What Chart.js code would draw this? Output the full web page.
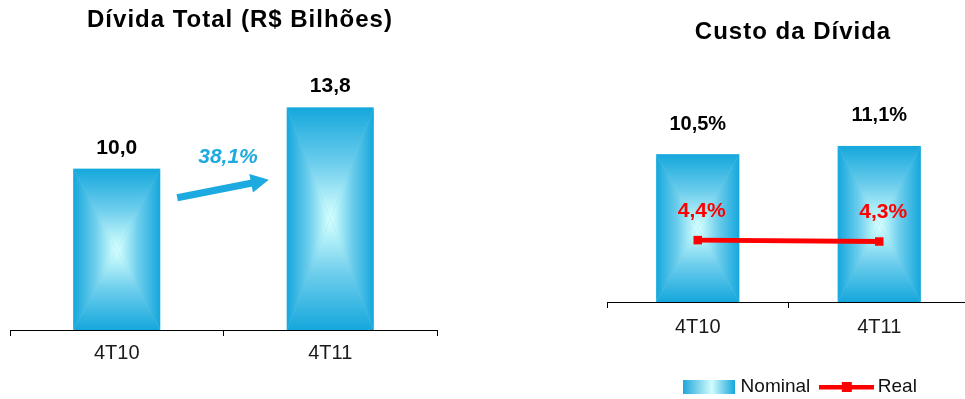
<!DOCTYPE html>
<html lang="pt-BR">
<head>
<meta charset="utf-8">
<title>Dívida Total e Custo da Dívida</title>
<script src="https://cdn.jsdelivr.net/npm/chart.js@4.4.1/dist/chart.umd.min.js"></script>
<style>
  body {
    margin: 0;
    width: 965px;
    height: 399px;
    overflow: hidden;
    position: relative;
    background: #fff;
    font-family: 'Liberation Sans', Arial, sans-serif;
  }
  .title {
    position: absolute;
    z-index: 2;
    font-weight: bold;
    font-size: 24px;
    line-height: 24px;
    letter-spacing: 1px;
    text-align: center;
    white-space: nowrap;
    color: #000;
  }
  canvas { position: absolute; top: 0; }
</style>
</head>
<body>
<div class="title" style="left:0; top:7px; width:480px;">Dívida Total (R$ Bilhões)</div>
<div class="title" style="left:600px; top:19px; width:386px;">Custo da Dívida</div>
<canvas id="debt-chart" width="447" height="399" style="left:0"></canvas>
<canvas id="cost-chart" width="400" height="399" style="left:600px"></canvas>
<script>
// data
const periods = ['4T10', '4T11'];
const debtTotal = [10.0, 13.8];          // R$ bilhões
const debtGrowth = '38,1%';
const costNominal = [10.5, 11.1];        // %
const costReal = [4.4, 4.3];             // %

const FONT = "'Liberation Sans', Arial, sans-serif";
const EDGE = '#15a7dc';
const MID = '#6ccdec';
const CENTER = '#d8ffff';
const ACCENT = '#1caae0';

const fmt = (v) => v.toFixed(1).replace('.', ',');

// rectangle "from center" gradient, drawn as four triangles
function addStops(g) {
    g.addColorStop(0, EDGE);
    g.addColorStop(0.5, MID);
    g.addColorStop(0.85, '#b8f2f9');
    g.addColorStop(1, CENTER);
    return g;
}

function paintBar(ctx, bar) {
    const { x, y, base, width } = bar.getProps(['x', 'y', 'base', 'width'], true);
    const l = x - width / 2, r = x + width / 2;
    const t = Math.min(y, base), b = Math.max(y, base);
    const cy = (t + b) / 2;
    ctx.save();
    ctx.fillStyle = MID;
    ctx.fillRect(l, t, r - l, b - t);
    const parts = [
        [[l, t], [r, t], ctx.createLinearGradient(0, t, 0, cy)],
        [[l, b], [r, b], ctx.createLinearGradient(0, b, 0, cy)],
        [[l, t], [l, b], ctx.createLinearGradient(l, 0, x, 0)],
        [[r, t], [r, b], ctx.createLinearGradient(r, 0, x, 0)]
    ];
    parts.forEach(([p1, p2, g]) => {
        ctx.beginPath();
        ctx.moveTo(p1[0], p1[1]);
        ctx.lineTo(p2[0], p2[1]);
        ctx.lineTo(x, cy);
        ctx.closePath();
        ctx.fillStyle = addStops(g);
        ctx.fill();
    });
    ctx.restore();
}

const gradientBars = {
    id: 'gradientBars',
    afterDatasetDraw(chart, args) {
        if (args.meta.type !== 'bar') return;
        args.meta.data.forEach((bar) => paintBar(chart.ctx, bar));
    }
};

function drawText(ctx, text, x, y, font, color) {
    ctx.save();
    ctx.font = font;
    ctx.fillStyle = color;
    ctx.textAlign = 'center';
    ctx.textBaseline = 'middle';
    ctx.fillText(text, x, y);
    ctx.restore();
}

// value labels + growth arrow for the left chart
const debtLabels = {
    id: 'debtLabels',
    afterDatasetsDraw(chart) {
        const ctx = chart.ctx;
        const bars = chart.getDatasetMeta(0).data;
        bars.forEach((bar, i) => {
            drawText(ctx, fmt(debtTotal[i]), bar.x, bar.y - 21, 'bold 21px ' + FONT, '#000');
        });

        // arrow between the bars
        const x0 = bars[0].x + bars[0].width / 2 + 17;
        const x1 = bars[1].x - bars[1].width / 2 - 18;
        const y0 = bars[0].y + 29;
        const y1 = y0 - 18;
        const ang = Math.atan2(y1 - y0, x1 - x0);
        const head = 18, half = 9.5;
        const hx = x1 - head * Math.cos(ang), hy = y1 - head * Math.sin(ang);
        ctx.save();
        ctx.strokeStyle = ACCENT;
        ctx.fillStyle = ACCENT;
        ctx.lineWidth = 7;
        ctx.beginPath();
        ctx.moveTo(x0, y0);
        ctx.lineTo(hx + Math.cos(ang), hy + Math.sin(ang));
        ctx.stroke();
        ctx.beginPath();
        ctx.moveTo(x1, y1);
        ctx.lineTo(hx - half * Math.sin(ang), hy + half * Math.cos(ang));
        ctx.lineTo(hx + half * Math.sin(ang), hy - half * Math.cos(ang));
        ctx.closePath();
        ctx.fill();
        ctx.restore();
        drawText(ctx, debtGrowth, (x0 + x1) / 2 + 5, (y0 + y1) / 2 - 32, 'italic bold 21px ' + FONT, ACCENT);
    }
};

const costLabels = {
    id: 'costLabels',
    afterDatasetsDraw(chart) {
        const ctx = chart.ctx;
        chart.getDatasetMeta(0).data.forEach((bar, i) => {
            drawText(ctx, fmt(costNominal[i]) + '%', bar.x, bar.y - 30, 'bold 20px ' + FONT, '#000');
        });
        chart.getDatasetMeta(1).data.forEach((pt, i) => {
            drawText(ctx, fmt(costReal[i]) + '%', pt.x + 4, pt.y - 29, 'bold 21px ' + FONT, '#ff0000');
        });
    }
};

// legend icons
function nominalIcon() {
    const c = document.createElement('canvas');
    c.width = 52; c.height = 14;
    const g = c.getContext('2d');
    const grad = g.createLinearGradient(0, 0, 52, 0);
    grad.addColorStop(0, '#20a8dc');
    grad.addColorStop(0.55, '#d2fdfd');
    grad.addColorStop(1, '#16a6dc');
    g.fillStyle = grad;
    g.fillRect(0, 0, 52, 14);
    return c;
}

function realIcon() {
    const c = document.createElement('canvas');
    c.width = 55; c.height = 14;
    const g = c.getContext('2d');
    g.fillStyle = '#ff0000';
    g.fillRect(0, 5, 55, 4.5);
    g.fillRect(23, 2, 10, 10);
    return c;
}

const legendIcons = [nominalIcon(), realIcon()];

const axisX = (padding, height) => ({
    offset: true,
    grid: { display: true, offset: true, drawOnChartArea: false, drawTicks: true, tickLength: 6, color: '#000', lineWidth: 1 },
    border: { display: true, color: '#000', width: 1 },
    ticks: { color: '#1a1a1a', padding: padding, font: { family: FONT, size: 20 } },
    afterFit: (scale) => { scale.height = height; }
});

new Chart(document.getElementById('debt-chart'), {
    type: 'bar',
    data: {
        labels: periods,
        datasets: [{
            label: 'Dívida Total',
            data: debtTotal,
            backgroundColor: 'rgba(0,0,0,0)',
            borderWidth: 0,
            barPercentage: 0.407,
            categoryPercentage: 1
        }]
    },
    options: {
        responsive: false,
        animation: false,
        events: [],
        layout: { padding: { top: 72, left: 10, right: 10, bottom: 0 } },
        plugins: { legend: { display: false }, tooltip: { enabled: false } },
        scales: {
            x: axisX(5, 69),
            y: { display: false, min: 0, max: 16 }
        }
    },
    plugins: [gradientBars, debtLabels]
});

new Chart(document.getElementById('cost-chart'), {
    type: 'bar',
    data: {
        labels: periods,
        datasets: [
            {
                type: 'bar',
                label: 'Nominal',
                data: costNominal,
                backgroundColor: 'rgba(0,0,0,0)',
                borderWidth: 0,
                barPercentage: 0.457,
                categoryPercentage: 1,
                order: 1
            },
            {
                type: 'line',
                label: 'Real',
                data: costReal,
                borderColor: '#ff0000',
                backgroundColor: '#ff0000',
                borderWidth: 5,
                pointStyle: 'rect',
                pointRadius: 6,
                pointBorderWidth: 0,
                pointBackgroundColor: '#ff0000',
                order: 0
            }
        ]
    },
    options: {
        responsive: false,
        animation: false,
        events: [],
        layout: { padding: { top: 77, left: 7, right: 3, bottom: -7.5 } },
        plugins: {
            tooltip: { enabled: false },
            legend: {
                position: 'bottom',
                labels: {
                    usePointStyle: true,
                    pointStyleWidth: 44,
                    padding: 14,
                    color: '#111',
                    font: { family: FONT, size: 19 },
                    generateLabels: (chart) => chart.data.datasets.map((ds, i) => ({
                        text: ds.label,
                        pointStyle: legendIcons[i],
                        fillStyle: 'rgba(0,0,0,0)',
                        strokeStyle: 'rgba(0,0,0,0)',
                        lineWidth: 0,
                        fontColor: '#111',
                        hidden: false,
                        datasetIndex: i
                    }))
                }
            }
        },
        scales: {
            x: axisX(7, 61.5),
            y: {
                position: 'right',
                min: 0,
                max: 16,
                grid: { display: false },
                border: { display: false },
                ticks: { display: false },
                afterFit: (scale) => { scale.width = 27; }
            }
        }
    },
    plugins: [gradientBars, costLabels]
});
</script>
</body>
</html>
